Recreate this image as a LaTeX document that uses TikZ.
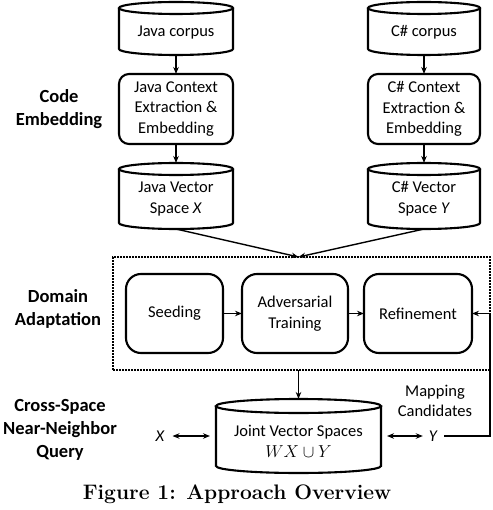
\documentclass[tikz,border=0pt]{standalone}
\usepackage{fontspec}
\newfontfamily\carl{Carlito}
\usetikzlibrary{calc,arrows.meta}
\newcommand{\drawcyl}[3]{%
 \draw[outl] ($(#1.north west)+(0,-#3)$) -- ($(#1.south west)+(0,#3)$) arc[start angle=180,end angle=360,x radius=#2,y radius=#3] -- ($(#1.north east)+(0,-#3)$);
 \draw[outl] ($(#1.north)+(0,-#3)$) ellipse[x radius=#2,y radius=#3];}
\begin{document}
\begin{tikzpicture}[
  outl/.style={line width=2.1pt},
  txt/.style={font=\carl\fontsize{16.5}{20.5}\selectfont, align=center, inner sep=0pt},
  lbl/.style={font=\carl\bfseries\fontsize{18.5}{23}\selectfont, align=center, inner sep=0pt},
  rbox/.style={txt, draw, line width=2.1pt, rounded corners=10pt, inner sep=0pt, outer sep=0pt},
  dbox/.style={rbox, rounded corners=15pt, minimum height=79pt},
  cyl/.style={inner sep=0pt, outer sep=0pt},
  arr/.style={-{Stealth[length=7pt,width=5.5pt]}, line width=1.4pt},
  darr/.style={{Stealth[length=7pt,width=5.5pt]}-{Stealth[length=7pt,width=5.5pt]}, line width=1.4pt}
]
\useasboundingbox (0,0) rectangle (492pt,-510pt);
% left column
\node[cyl, minimum width=114pt, minimum height=53pt] (jc) at (176pt,-28.5pt) {};
\node[txt] (jct) at ([yshift=-4pt]jc.center) {Java corpus};
\node[rbox, minimum width=114pt, minimum height=70pt] (jx) at (176pt,-109pt) {Java Context\\Extraction \&\\Embedding};
\node[cyl, minimum width=114pt, minimum height=66pt] (jv) at (176pt,-196pt) {};
\node[txt] (jvt) at ([yshift=-3pt]jv.center) {Java Vector\\Space \textit{X}};
% right column
\node[cyl, minimum width=112pt, minimum height=53pt] (cc) at (424pt,-28.5pt) {};
\node[txt] (cct) at ([yshift=-4pt]cc.center) {C\# corpus};
\node[rbox, minimum width=112pt, minimum height=70pt] (cx) at (424pt,-109pt) {C\# Context\\Extraction \&\\Embedding};
\node[cyl, minimum width=112pt, minimum height=66pt] (cv) at (424pt,-196pt) {};
\node[txt] (cvt) at ([yshift=-3pt]cv.center) {C\# Vector\\Space \textit{Y}};
% domain adaptation
\node[draw, densely dotted, line width=2pt, minimum width=377pt, minimum height=113pt, inner sep=0pt, outer sep=0pt] (da) at (301.5pt,-313.5pt) {};
\node[dbox, minimum width=97pt] (sd) at (174.5pt,-313.5pt) {Seeding};
\node[dbox, minimum width=106pt] (at) at (295pt,-313.5pt) {Adversarial\\Training};
\node[dbox, minimum width=108pt] (rf) at (418pt,-313.5pt) {Refinement};
% joint
\node[cyl, minimum width=165pt, minimum height=74pt] (jn) at (298.5pt,-436pt) {};
\node[txt] (jnt) at ([yshift=-5.5pt]jn.center) {Joint Vector Spaces\\ \(WX\cup Y\)};
\node[txt, font=\carl\itshape\fontsize{16.5}{20.5}\selectfont] (xn) at (160pt,-436pt) {X};
\node[txt, font=\carl\itshape\fontsize{16.5}{20.5}\selectfont] (yn) at (433pt,-436pt) {Y};
\node[txt] (mc) at (435pt,-401pt) {Mapping\\Candidates};
\coordinate (fb) at (490pt,-436pt);
% labels
\node[lbl] (l1) at (59pt,-109pt) {Code\\Embedding};
\node[lbl] (l2) at (58pt,-308.5pt) {Domain\\Adaptation};
\node[lbl] (l3) at (60pt,-430pt) {Cross-Space\\Near-Neighbor\\Query};
\node[font=\bfseries\fontsize{21}{24}\selectfont, inner sep=0pt, anchor=base] (cap) at (237pt,-499pt) {Figure 1: Approach Overview};
% cylinders
\drawcyl{jc}{57pt}{6pt}
\drawcyl{jv}{57pt}{6pt}
\drawcyl{cc}{56pt}{6pt}
\drawcyl{cv}{56pt}{6pt}
\drawcyl{jn}{82.5pt}{7pt}
% connectors
\draw[arr] (jc) -- (jx);
\draw[arr] (jx) -- (jv);
\draw[arr] (cc) -- (cx);
\draw[arr] (cx) -- (cv);
\draw[arr] (jv.south) -- (jn.north |- da.north);
\draw[arr] (cv.south) -- (jn.north |- da.north);
\draw[arr] (sd) -- (at);
\draw[arr] (at) -- (rf);
\draw[arr] (jn.north |- da.south) -- (jn.north);
\draw[darr] ([xshift=8pt]xn.east) -- ([xshift=-6pt]jn.west);
\draw[darr] ([xshift=6pt]jn.east) -- ([xshift=-6pt]yn.west);
\draw[arr] ([xshift=7pt]yn.east) -- (fb) |- (rf.east);
\end{tikzpicture}
\end{document}
